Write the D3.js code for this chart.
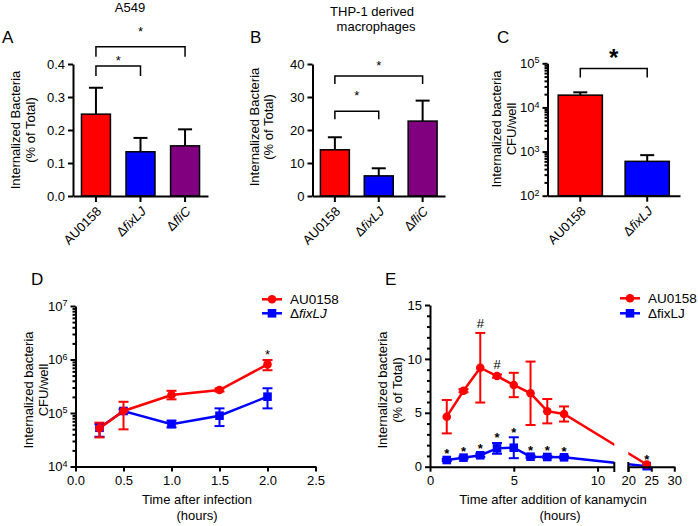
<!DOCTYPE html>
<html>
<head>
<meta charset="utf-8">
<script src="https://cdn.jsdelivr.net/npm/d3@7"></script>
<style>
  body { margin: 0; background: #fff; }
  svg text { font-family: "Liberation Sans", Arial, Helvetica, sans-serif; }
</style>
</head>
<body>
<script>
// ---------- data ----------
var barStrains = ["AU0158", "ΔfixLJ", "ΔfliC"];
var barColors = ["#ff0000", "#0000ff", "#800080"];

// A: A549 cells
var a549Mean = [0.248, 0.134, 0.152];
var a549Err = [0.080, 0.042, 0.050];
var a549Pairs = [[0, 1], [0, 2]];
var a549PairY = [0.394, 0.452];
var a549StarY = [0.42, 0.508];
var a549Ticks = [0, 0.1, 0.2, 0.3, 0.4];

// B: THP-1 derived macrophages
var thpMean = [14.0, 6.1, 22.7];
var thpErr = [3.8, 2.3, 6.2];
var thpPairs = [[0, 1], [0, 2]];
var thpPairY = [25.7, 36.4];
var thpStarY = [31.3, 40.4];
var thpTicks = [0, 10, 20, 30, 40];

// C: CFU/well
var cfuStrains = ["AU0158", "ΔfixLJ"];
var cfuColors = ["#ff0000", "#0000ff"];
var cfuMean = [19000, 600];
var cfuErr = [3000, 230];
var cfuPairs = [[0, 1]];
var cfuPairY = [75800];
var cfuStarY = [175000];
var cfuTicks = [1e2, 1e3, 1e4, 1e5];

// D: time after infection
var infTime = [0.25, 0.5, 1.0, 1.5, 2.0];
var infWT = [52000, 109000, 217000, 269000, 810000];
var infWTlo = [35000, 49500, 180000, 252000, 630000];
var infWThi = [66000, 162000, 260000, 288000, 980000];
var infFix = [53000, 109000, 62000, 89000, 202000];
var infFixLo = [36000, 101000, 54000, 57000, 122000];
var infFixHi = [62000, 117000, 72000, 122000, 290000];
var infStarTimes = [2.0];
var infXTicks = [0, 0.5, 1.0, 1.5, 2.0, 2.5];
var infYTicks = [1e4, 1e5, 1e6, 1e7];

// E: time after addition of kanamycin
var kanTime = [1, 2, 3, 4, 5, 6, 7, 8, 24];
var kanWT = [4.64, 7.05, 9.18, 8.41, 7.58, 6.81, 5.15, 4.89, 0.2];
var kanWTsd = [1.55, 0.15, 3.23, 0.15, 1.13, 2.94, 1.13, 0.70, 0];
var kanFix = [0.62, 0.84, 1.06, 1.70, 1.76, 0.93, 0.90, 0.87, 0.05];
var kanFixSd = [0.1, 0.1, 0.15, 0.5, 0.97, 0.1, 0.1, 0.1, 0];
var kanStarTimes = [1, 2, 3, 4, 5, 6, 7, 8, 24];
var kanHashTimes = [3, 4];
var kanYTicks = [0, 5, 10, 15];
var kanXTicks1 = [0, 5, 10];
var kanXTicks2 = [20, 25, 30];

// ---------- setup ----------
var FONT = "Liberation Sans, Arial, Helvetica, sans-serif";
var RED = "#ff0000", BLUE = "#0000ff";

var svg = d3.select("body").append("svg")
    .attr("width", 698)
    .attr("height", 526);

function styleAxis(g) {
  g.attr("font-family", FONT).attr("font-size", 13);
  g.selectAll("path.domain").attr("stroke", "#000").attr("stroke-width", 2);
  g.selectAll(".tick line").attr("stroke", "#000").attr("stroke-width", 2);
  g.selectAll(".tick text").attr("fill", "#000");
}

function strainLabel(t, name, italic) {
  t.text("");
  if (name.charAt(0) === "Δ") {
    t.append("tspan").text("Δ");
    t.append("tspan").attr("font-style", italic ? "italic" : null).text(name.slice(1));
  } else {
    t.append("tspan").text(name);
  }
}

function powLabels(sel) {
  sel.each(function(d) {
    var t = d3.select(this).text("");
    t.append("tspan").text("10");
    t.append("tspan").attr("dy", "-0.5em").attr("font-size", 9)
      .text(Math.round(Math.log10(d)));
  });
}

function logMinors(lo, hi) {
  var out = [];
  for (var e = Math.round(Math.log10(lo)); e < Math.round(Math.log10(hi)); e++)
    for (var k = 2; k <= 9; k++) out.push(k * Math.pow(10, e));
  return out;
}

function star(g, x, cy, size, sym, bold) {
  var off = sym === "#" ? 0.36 : 0.57;
  g.append("text")
    .attr("x", x)
    .attr("y", cy + off * size)
    .attr("text-anchor", "middle")
    .attr("font-size", size)
    .attr("font-weight", bold ? "bold" : null)
    .text(sym);
}

function yTitle(bx, cy, lines) {
  var t = svg.append("text")
    .attr("transform", "translate(" + bx + "," + cy + ") rotate(-90)")
    .attr("text-anchor", "middle")
    .attr("font-size", 13);
  lines.forEach(function(l, i) {
    t.append("tspan").attr("x", 0).attr("dy", i === 0 ? 0 : 14.5).text(l);
  });
}

function plainText(x, y, s, size, anchor) {
  svg.append("text").attr("x", x).attr("y", y)
    .attr("font-size", size).attr("text-anchor", anchor || "middle").text(s);
}

// ---------- bar panels ----------
function barPanel(o) {
  var g = svg.append("g");
  var x = d3.scaleBand().domain(o.cats).range([o.x0, o.x1])
      .paddingInner(o.pi).paddingOuter(o.po);
  var y = o.y, base = y.range()[0];
  var cx = function(i) { return x(o.cats[i]) + x.bandwidth() / 2; };

  // upper error bars
  o.mean.forEach(function(m, i) {
    var top = y(m + o.err[i]);
    g.append("line").attr("x1", cx(i)).attr("x2", cx(i))
      .attr("y1", y(m)).attr("y2", top)
      .attr("stroke", "#000").attr("stroke-width", 2);
    g.append("line").attr("x1", cx(i) - 7).attr("x2", cx(i) + 7)
      .attr("y1", top).attr("y2", top)
      .attr("stroke", "#000").attr("stroke-width", 2);
  });

  g.selectAll("rect.bar").data(o.mean).enter().append("rect")
    .attr("class", "bar")
    .attr("x", function(d, i) { return x(o.cats[i]); })
    .attr("y", function(d) { return y(d); })
    .attr("width", x.bandwidth())
    .attr("height", function(d) { return base - y(d); })
    .attr("fill", function(d, i) { return o.colors[i]; })
    .attr("stroke", "#000")
    .attr("stroke-width", 1.5);

  // significance brackets
  o.pairs.forEach(function(p, k) {
    var yb = y(o.pairY[k]);
    var x1 = cx(p[0]), x2 = cx(p[1]);
    g.append("path")
      .attr("d", "M" + x1 + "," + (yb + o.leg) + "V" + yb + "H" + x2 + "V" + (yb + o.leg))
      .attr("fill", "none").attr("stroke", "#000").attr("stroke-width", 1.5);
    star(g, (x1 + x2) / 2, y(o.starY[k]), o.starSize, "*", o.starBold);
  });

  var ya = g.append("g").attr("transform", "translate(" + o.x0 + ",0)")
    .call(d3.axisLeft(y).tickValues(o.ticks).tickFormat(o.fmt || null)
      .tickSize(5).tickSizeOuter(0).tickPadding(3));
  styleAxis(ya);
  if (o.log) {
    powLabels(ya.selectAll(".tick text"));
    var ym = g.append("g").attr("transform", "translate(" + o.x0 + ",0)")
      .call(d3.axisLeft(y).tickValues(logMinors(y.domain()[0], y.domain()[1]))
        .tickFormat("").tickSize(3).tickSizeOuter(0));
    styleAxis(ym);
    ym.select("path.domain").remove();
  }

  var xa = g.append("g").attr("transform", "translate(0," + base + ")")
    .call(d3.axisBottom(x).tickSize(6).tickSizeOuter(0).tickFormat(""));
  styleAxis(xa);
  xa.selectAll(".tick text").remove();

  // rotated strain names
  o.cats.forEach(function(c, i) {
    var t = svg.append("text")
      .attr("transform", "translate(" + (cx(i) + 3) + "," + (base + 13) + ") rotate(-45)")
      .attr("text-anchor", "end")
      .attr("dy", "0.35em")
      .attr("font-size", 13)
      .attr("fill", "#000");
    strainLabel(t, c, true);
  });
}

// A
barPanel({
  cats: barStrains, colors: barColors, mean: a549Mean, err: a549Err,
  x0: 73, x1: 208, pi: 0.35, po: 0.19,
  y: d3.scaleLinear().domain([0, 0.4]).range([196, 64]),
  ticks: a549Ticks, fmt: d3.format(".1f"),
  pairs: a549Pairs, pairY: a549PairY, starY: a549StarY, leg: 10, starSize: 13
});
// B
barPanel({
  cats: barStrains, colors: barColors, mean: thpMean, err: thpErr,
  x0: 312.5, x1: 445, pi: 0.34, po: 0.18,
  y: d3.scaleLinear().domain([0, 40]).range([196, 64]),
  ticks: thpTicks, fmt: d3.format("d"),
  pairs: thpPairs, pairY: thpPairY, starY: thpStarY, leg: 8, starSize: 13
});
// C
barPanel({
  cats: cfuStrains, colors: cfuColors, mean: cfuMean, err: cfuErr,
  x0: 547.5, x1: 680, pi: 0.34, po: 0.16,
  y: d3.scaleLog().domain([1e2, 1e5]).range([195.7, 63.3]),
  ticks: cfuTicks, log: true,
  pairs: cfuPairs, pairY: cfuPairY, starY: cfuStarY, leg: 9, starSize: 24, starBold: true
});

plainText(130, 12, "A549", 13);
plainText(372, 16, "THP-1 derived", 13);
plainText(376, 31, "macrophages", 13);
plainText(2, 43, "A", 17, "start");
plainText(250, 43, "B", 17, "start");
plainText(497, 43, "C", 17, "start");
yTitle(20, 130, ["Internalized Bacteria", "(% of Total)"]);
yTitle(258.5, 127, ["Internalized Bacteria", "(% of Total)"]);
yTitle(501, 129, ["Internalized bacteria", "CFU/well"]);

// ---------- line panel helpers ----------
function errBars(g, xs, ys, color) {
  g.append("line").attr("x1", xs).attr("x2", xs).attr("y1", ys[0]).attr("y2", ys[1])
    .attr("stroke", color).attr("stroke-width", 2);
  ys.forEach(function(yy) {
    g.append("line").attr("x1", xs - 5).attr("x2", xs + 5).attr("y1", yy).attr("y2", yy)
      .attr("stroke", color).attr("stroke-width", 2);
  });
}
function marker(g, x, y, shape, color) {
  if (shape === "circle")
    g.append("circle").attr("cx", x).attr("cy", y).attr("r", 4.3).attr("fill", color);
  else
    g.append("rect").attr("x", x - 4.3).attr("y", y - 4.3).attr("width", 8.6).attr("height", 8.6)
      .attr("fill", color);
}
function legend(x, y, label, shape, color, italic) {
  var g = svg.append("g");
  g.append("line").attr("x1", x).attr("x2", x + 20).attr("y1", y).attr("y2", y)
    .attr("stroke", color).attr("stroke-width", 2.5);
  marker(g, x + 10, y, shape, color);
  var t = g.append("text").attr("x", x + 28).attr("y", y + 4.5).attr("font-size", 13.5);
  strainLabel(t, label, italic);
}

// ---------- D ----------
(function() {
  var g = svg.append("g");
  var x = d3.scaleLinear().domain([0, 2.5]).range([75.5, 315.5]);
  var y = d3.scaleLog().domain([1e4, 1e7]).range([466.5, 306]);
  var line = d3.line().x(function(d) { return x(d[0]); }).y(function(d) { return y(d[1]); });

  var series = [
    { t: infTime, v: infFix, lo: infFixLo, hi: infFixHi, color: BLUE, shape: "square" },
    { t: infTime, v: infWT, lo: infWTlo, hi: infWThi, color: RED, shape: "circle" }
  ];
  series.forEach(function(s) {
    g.append("path").datum(s.t.map(function(t, i) { return [t, s.v[i]]; }))
      .attr("d", line).attr("fill", "none").attr("stroke", s.color).attr("stroke-width", 2.5);
    s.t.forEach(function(t, i) {
      errBars(g, x(t), [y(s.lo[i]), y(s.hi[i])], s.color);
      marker(g, x(t), y(s.v[i]), s.shape, s.color);
    });
  });
  infStarTimes.forEach(function(t) {
    var i = infTime.indexOf(t);
    star(g, x(t), y(infWThi[i]) - 8, 13, "*");
  });

  var xa = g.append("g").attr("transform", "translate(0,466.5)")
    .call(d3.axisBottom(x).tickValues(infXTicks).tickFormat(d3.format(".1f"))
      .tickSize(5).tickSizeOuter(0).tickPadding(4));
  styleAxis(xa);
  var ya = g.append("g").attr("transform", "translate(75.5,0)")
    .call(d3.axisLeft(y).tickValues(infYTicks).tickSize(5).tickSizeOuter(0).tickPadding(3));
  styleAxis(ya);
  powLabels(ya.selectAll(".tick text"));
  var ym = g.append("g").attr("transform", "translate(75.5,0)")
    .call(d3.axisLeft(y).tickValues(logMinors(1e4, 1e7)).tickFormat("").tickSize(3).tickSizeOuter(0));
  styleAxis(ym);
  ym.select("path.domain").remove();

  legend(262, 299.3, "AU0158", "circle", RED, true);
  legend(262, 313.3, "ΔfixLJ", "square", BLUE, true);
})();

plainText(31, 285, "D", 17, "start");
yTitle(33, 390, ["Internalized bacteria", "CFU/well"]);
plainText(197, 504, "Time after infection", 13);
plainText(197, 520, "(hours)", 13);

// ---------- E ----------
(function() {
  var g = svg.append("g");
  var x1 = d3.scaleLinear().domain([0, 11]).range([430, 614.3]);
  var x2 = d3.scaleLinear().domain([20, 30]).range([628.3, 674.3]);
  var x = function(t) { return t <= 11 ? x1(t) : x2(t); };
  var y = d3.scaleLinear().domain([0, 15]).range([466.7, 305]);
  var line = d3.line().x(function(d) { return x(d[0]); }).y(function(d) { return y(d[1]); });

  // lines are joined across the axis break, then masked inside the gap
  var clip = svg.append("clipPath").attr("id", "ebreak");
  clip.append("rect").attr("x", 0).attr("y", 0).attr("width", 614.3).attr("height", 526);
  clip.append("rect").attr("x", 628.3).attr("y", 0).attr("width", 70).attr("height", 526);

  var series = [
    { v: kanFix, sd: kanFixSd, color: BLUE, shape: "square" },
    { v: kanWT, sd: kanWTsd, color: RED, shape: "circle" }
  ];
  series.forEach(function(s) {
    g.append("path").datum(kanTime.map(function(t, i) { return [t, s.v[i]]; }))
      .attr("clip-path", "url(#ebreak)")
      .attr("d", line).attr("fill", "none").attr("stroke", s.color).attr("stroke-width", 2.5);
    kanTime.forEach(function(t, i) {
      if (s.sd[i] > 0) errBars(g, x(t), [y(s.v[i] - s.sd[i]), y(s.v[i] + s.sd[i])], s.color);
      marker(g, x(t), y(s.v[i]), s.shape, s.color);
    });
  });

  kanStarTimes.forEach(function(t) {
    var i = kanTime.indexOf(t);
    var top = t === 24 ? kanWT[i] : kanFix[i] + kanFixSd[i];
    star(g, x(t), y(top) - 8, 13, "*", true);
  });
  kanHashTimes.forEach(function(t) {
    var i = kanTime.indexOf(t);
    star(g, x(t), y(kanWT[i] + kanWTsd[i]) - 10, 13, "#");
  });

  var xa1 = g.append("g").attr("transform", "translate(0,466.7)")
    .call(d3.axisBottom(x1).tickValues(kanXTicks1).tickSize(5).tickSizeOuter(0).tickPadding(4));
  styleAxis(xa1);
  var xa2 = g.append("g").attr("transform", "translate(0,466.7)")
    .call(d3.axisBottom(x2).tickValues(kanXTicks2).tickSize(5).tickSizeOuter(0).tickPadding(4));
  styleAxis(xa2);
  [x1.range()[1], x2.range()[0]].forEach(function(bx) {
    g.append("line").attr("x1", bx).attr("x2", bx).attr("y1", 462).attr("y2", 472)
      .attr("stroke", "#000").attr("stroke-width", 2);
  });

  var ya = g.append("g").attr("transform", "translate(430,0)")
    .call(d3.axisLeft(y).tickValues(kanYTicks).tickFormat(d3.format("d"))
      .tickSize(5).tickSizeOuter(0).tickPadding(3));
  styleAxis(ya);
  var minors = d3.range(1, 15).filter(function(v) { return v % 5 !== 0; });
  var ym = g.append("g").attr("transform", "translate(430,0)")
    .call(d3.axisLeft(y).tickValues(minors).tickFormat("").tickSize(3).tickSizeOuter(0));
  styleAxis(ym);
  ym.select("path.domain").remove();

  legend(620, 298.3, "AU0158", "circle", RED, false);
  legend(620, 313.3, "ΔfixLJ", "square", BLUE, false);
})();

plainText(385, 285, "E", 17, "start");
yTitle(387, 390, ["Internalized bacteria", "(% of Total)"]);
plainText(553, 504, "Time after addition of kanamycin", 13);
plainText(560, 520, "(hours)", 13);
</script>
</body>
</html>
